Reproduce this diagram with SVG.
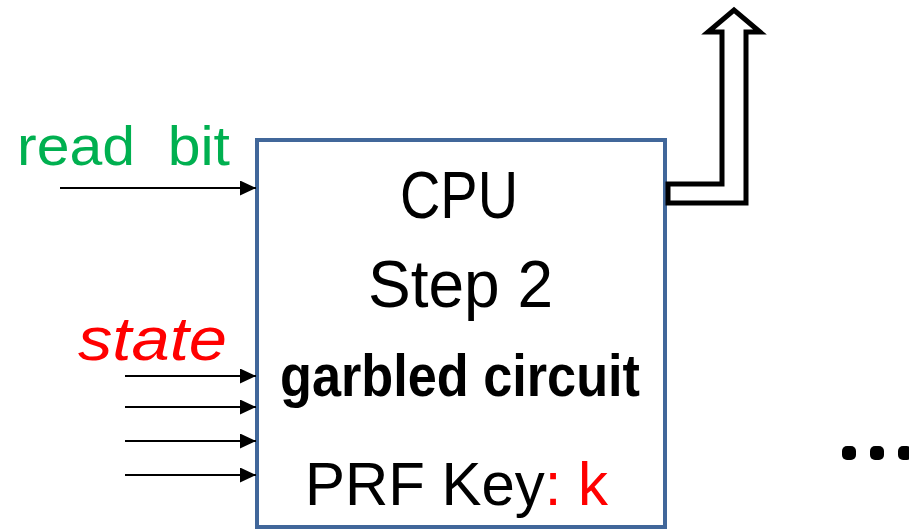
<svg xmlns="http://www.w3.org/2000/svg" width="909" height="529" viewBox="0 0 909 529">
<defs>
<style>
.t{font-family:"Liberation Sans","Open Sans",Arial,sans-serif}
.in{stroke:#000;stroke-width:2;fill:none}
</style>
<marker id="ah" markerUnits="userSpaceOnUse" markerWidth="17" markerHeight="16" refX="16" refY="7.5" orient="auto">
<path d="M0,0 L16,7.5 L0,15 Z" fill="#000"/>
</marker>
</defs>
<rect width="909" height="529" fill="#fff"/>
<g id="cpu">
<rect x="257" y="140" width="408" height="387" fill="#fff" stroke="#41679a" stroke-width="4"/>
<text class="t" x="400" y="218" font-size="66" textLength="118" lengthAdjust="spacingAndGlyphs">CPU</text>
<text class="t" x="368" y="307" font-size="66" textLength="185" lengthAdjust="spacingAndGlyphs">Step 2</text>
<text class="t" x="280" y="396" font-size="59" font-weight="bold" textLength="360" lengthAdjust="spacingAndGlyphs">garbled circuit</text>
<text class="t" x="305" y="505" font-size="61" textLength="303" lengthAdjust="spacingAndGlyphs">PRF Key<tspan fill="#ff0000">: k</tspan></text>
</g>
<g id="labels">
<text class="t" x="17" y="165" font-size="56" fill="#00b050" textLength="213" lengthAdjust="spacingAndGlyphs" xml:space="preserve">read  bit</text>
<text class="t" x="78" y="360" font-size="62" font-style="italic" fill="#ff0000" textLength="149" lengthAdjust="spacingAndGlyphs">state</text>
</g>
<g id="output">
<path d="M668,184 L722,184 L722,32 L708,32 L734,10 L760,32 L746,32 L746,203 L668,203 Z" fill="#fff" stroke="#000" stroke-width="5" stroke-linejoin="miter"/>
</g>
<g id="connectors">
<line class="in" x1="60" y1="188" x2="256" y2="188" marker-end="url(#ah)"/>
<line class="in" x1="125" y1="376" x2="256" y2="376" marker-end="url(#ah)"/>
<line class="in" x1="125" y1="407" x2="256" y2="407" marker-end="url(#ah)"/>
<line class="in" x1="125" y1="441" x2="256" y2="441" marker-end="url(#ah)"/>
<line class="in" x1="125" y1="475" x2="256" y2="475" marker-end="url(#ah)"/>
</g>
<g id="ellipsis" fill="#000">
<rect x="842" y="446" width="14" height="14" rx="5"/>
<rect x="870" y="446" width="14" height="14" rx="5"/>
<rect x="898" y="446" width="14" height="14" rx="5"/>
</g>
</svg>
